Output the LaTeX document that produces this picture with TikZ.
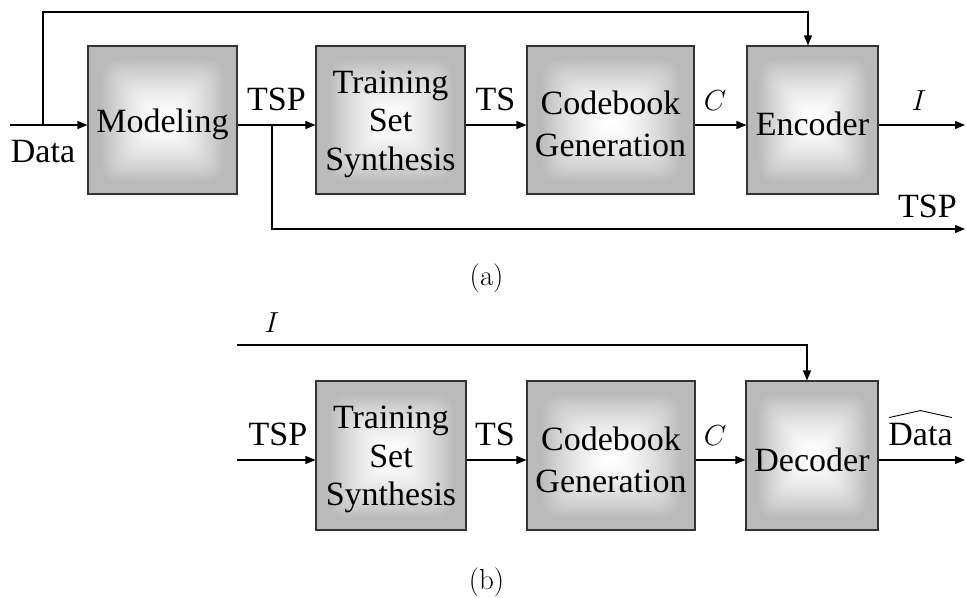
\RequirePackage{fix-cm}
\documentclass[tikz,border=0pt]{standalone}
\usepackage[no-math]{fontspec}
\setmainfont{Liberation Serif}
\newfontfamily\tnr{Liberation Serif}
\usetikzlibrary{arrows.meta,calc}
\pgfdeclarefunctionalshading{boxshade}{\pgfpoint{-50bp}{-50bp}}{\pgfpoint{50bp}{50bp}}{}{25 div dup mul dup mul dup mul exch 25 div dup mul dup mul dup mul add sqrt sqrt sqrt 0.84 div dup 1 gt {pop 1} if dup sqrt mul 0.27 mul 1 exch sub dup dup}
\begin{document}
\begin{tikzpicture}[x=1pt,y=-1pt,
  blk/.style={draw=black!80, line width=1.1pt, shading=boxshade, shade, minimum height=148pt, inner sep=0pt},
  btxt/.style={align=center, inner sep=0pt, font=\tnr\fontsize{34}{38.5}\selectfont},
  ln/.style={line width=1.1pt},
  arr/.style={ln, -{Triangle[length=10pt,width=8pt]}},
  lbl/.style={font=\tnr\fontsize{34}{40}\selectfont, inner sep=0pt, anchor=base},
  mlbl/.style={font=\fontsize{29}{34}\selectfont, inner sep=0pt, anchor=base}]
\path[use as bounding box] (0,0) rectangle (966,597);
% ---------- (a) ----------
\node[blk, minimum width=149pt] (mod) at (162.5,120) {};
\node[blk, minimum width=149pt] (tss) at (390.5,120) {};
\node[blk, minimum width=167pt] (cbg) at (610.5,120) {};
\node[blk, minimum width=131pt] (enc) at (812.5,120) {};
\node[btxt] (modt) at ($(mod.center)+(0,4)$) {Modeling};
\node[btxt] (tsst) at ($(tss.center)+(0,4)$) {Training\\Set\\Synthesis};
\node[btxt, font=\tnr\fontsize{34}{42}\selectfont] (cbgt) at ($(cbg.center)+(0,4)$) {Codebook\\Generation};
\node[btxt] (enct) at ($(enc.center)+(0,4)$) {Encoder};
\coordinate (din) at (10,125);
\coordinate (fb) at (43,125);
\coordinate (topy) at (0,12);
\coordinate (br) at (272,125);
\coordinate (iout) at (965,125);
\coordinate (tspout) at (965,229);
\draw[arr] (din) -- (din -| mod.west);
\draw[arr] (mod.east |- din) -- (din -| tss.west);
\draw[arr] (tss.east |- din) -- (din -| cbg.west);
\draw[arr] (cbg.east |- din) -- (din -| enc.west);
\draw[arr] (enc.east |- din) -- (iout);
\draw[arr] (fb) -- (fb |- topy) -| ($(enc.north)+(-4.5,0)$);
\draw[arr] (br) |- (tspout);
\node[lbl] (ldata) at (43,162) {Data};
\node[lbl] (ltsp1) at (276.5,110) {TSP};
\node[lbl] (lts1) at (495.5,110) {TS};
\node[mlbl] (lc1) at (715,110) {$C$};
\node[mlbl] (li1) at (919,110) {$I$};
\node[lbl] (ltsp2) at (927.5,217) {TSP};
\node[mlbl] (capa) at (486.5,285) {$(\mathrm{a})$};
% ---------- (b) ----------
\node[blk, minimum width=150pt, minimum height=149pt] (tssb) at (391,455.5) {};
\node[blk, minimum width=168pt, minimum height=149pt] (cbgb) at (611,455.5) {};
\node[blk, minimum width=132pt, minimum height=149pt] (dec) at (812,455.5) {};
\node[btxt] (tssbt) at ($(tssb.center)+(0,4)$) {Training\\Set\\Synthesis};
\node[btxt, font=\tnr\fontsize{34}{42}\selectfont] (cbgbt) at ($(cbgb.center)+(0,4)$) {Codebook\\Generation};
\node[btxt] (dect) at ($(dec.center)+(0,4)$) {Decoder};
\coordinate (tspin) at (237,460);
\coordinate (iin) at (237,345);
\coordinate (dout) at (965,460);
\draw[arr] (tspin) -- (tspin -| tssb.west);
\draw[arr] (tssb.east |- tspin) -- (tspin -| cbgb.west);
\draw[arr] (cbgb.east |- tspin) -- (tspin -| dec.west);
\draw[arr] (dec.east |- tspin) -- (dout);
\draw[arr] (iin) -| ($(dec.north)+(-5,0)$);
\node[mlbl] (li2) at (272,332) {$I$};
\node[lbl] (ltsp3) at (278,445) {TSP};
\node[lbl] (lts2) at (495,445) {TS};
\node[mlbl] (lc2) at (715,445) {$C$};
\node[lbl] (ldhat) at (920.5,445) {Data};
\draw[line width=0.9pt] ($(ldhat.north west)+(1,-5)$) -- ($(ldhat.north)+(0,-12)$) -- ($(ldhat.north east)+(-1,-5)$);
\node[mlbl] (capb) at (486.5,589) {$(\mathrm{b})$};
\end{tikzpicture}
\end{document}
